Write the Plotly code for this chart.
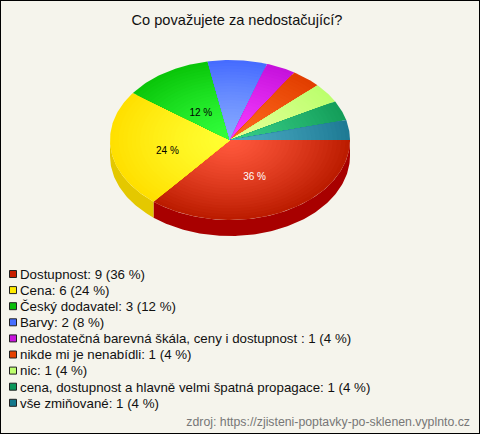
import math

import plotly.graph_objects as go

title = "Co považujete za nedostačující?"
source = "zdroj: https://zjisteni-poptavky-po-sklenen.vyplnto.cz"
categories = [
    "Dostupnost",
    "Cena",
    "Český dodavatel",
    "Barvy",
    "nedostatečná barevná škála, ceny i dostupnost ",
    "nikde mi je nenabídli",
    "nic",
    "cena, dostupnost a hlavně velmi špatná propagace",
    "vše zmiňované",
]
counts = [9, 6, 3, 2, 1, 1, 1, 1, 1]

# colours: centre of the slice, rim of the slice, legend box, side wall
inner_colors = [(255, 88, 60), (255, 255, 50), (50, 255, 60), (135, 170, 255), (245, 60, 255),
                (255, 105, 30), (228, 255, 150), (55, 205, 135), (75, 170, 195)]
outer_colors = [(188, 28, 0), (255, 224, 0), (10, 198, 10), (70, 108, 255), (198, 18, 220),
                (226, 62, 0), (188, 255, 110), (20, 158, 90), (30, 122, 148)]
box_colors = ["#c81e00", "#ffeb00", "#0abe0a", "#466eff", "#c814dc",
              "#e64100", "#beff6e", "#0a965a", "#14788c"]
side_colors = ["#a80000", "#e4c800", "#0a960a", "#3250c8", "#9600aa",
               "#aa3200", "#96c850", "#0a7846", "#0a5a6e"]
label_shift = [(-1, 1.5), (-3, 6.5), (3, 7.5)]

cx, cy, rx, ry, depth = 230, 140, 120, 80, 16
rings = 28
total = sum(counts)


def arc(a0, a1, scale=1.0, dy=0):
    n = max(2, int(abs(a1 - a0) * 60))
    pts = [a0 + (a1 - a0) * i / n for i in range(n + 1)]
    xs = [cx + rx * scale * math.cos(p) for p in pts]
    ys = [cy + dy + ry * scale * math.sin(p) for p in pts]
    return xs, ys


fig = go.Figure()

# slice edges in radians, clockwise on screen from 3 o'clock
edges = [0]
for c in counts:
    edges.append(edges[-1] + 2 * math.pi * c / total)

# side wall, only the front half shows
for i, c in enumerate(counts):
    a0, a1 = edges[i], min(edges[i + 1], math.pi)
    if a0 >= math.pi:
        continue
    x1, y1 = arc(a0, a1)
    x2, y2 = arc(a1, a0, dy=depth)
    fig.add_trace(go.Scatter(x=x1 + x2, y=y1 + y2, mode="lines", fill="toself",
                             fillcolor=side_colors[i], line=dict(width=0)))

# top, drawn as shrinking wedges to get the radial shading
for i, c in enumerate(counts):
    for k in range(rings):
        t = 1 - k / rings
        mix = t ** 1.3
        rgb = [round(inner_colors[i][j] + (outer_colors[i][j] - inner_colors[i][j]) * mix) for j in range(3)]
        xs, ys = arc(edges[i], edges[i + 1], scale=t)
        fig.add_trace(go.Scatter(x=[cx] + xs + [cx], y=[cy] + ys + [cy], mode="lines", fill="toself",
                                 fillcolor=f"rgb({rgb[0]},{rgb[1]},{rgb[2]})", line=dict(width=0)))

# percent labels on the big slices
for i, c in enumerate(counts):
    pct = round(100 * c / total)
    if pct < 10:
        continue
    mid = (edges[i] + edges[i + 1]) / 2
    fig.add_trace(go.Scatter(
        x=[cx + 0.5 * rx * math.cos(mid) + label_shift[i][0]],
        y=[cy + 0.5 * ry * math.sin(mid) + label_shift[i][1]],
        mode="text", text=[f"{pct} %"],
        textfont=dict(family="Liberation Sans", size=10, color="white" if i == 0 else "black"),
    ))

# legend rows
legend_y = [274 + 16.1 * i for i in range(len(categories))]
fig.add_trace(go.Scatter(
    x=[13] * len(categories), y=legend_y, mode="markers",
    marker=dict(symbol="square", size=7, color=box_colors, line=dict(color="#222222", width=1)),
))
fig.add_trace(go.Scatter(
    x=[20] * len(categories), y=[v + 1.5 for v in legend_y], mode="text", textposition="middle right",
    text=[f"{n}: {c} ({round(100 * c / total)} %)" for n, c in zip(categories, counts)],
    textfont=dict(family="Liberation Sans", size=13.3, color="#111111"),
))
fig.add_trace(go.Scatter(
    x=[470], y=[423], mode="text", textposition="middle left", text=[source],
    textfont=dict(family="Liberation Sans", size=12.3, color="#777777"),
))
fig.add_trace(go.Scatter(
    x=[237], y=[21], mode="text", text=[title],
    textfont=dict(family="Liberation Sans", size=14.6, color="#111111"),
))

fig.update_layout(
    width=480, height=434, margin=dict(l=0, r=0, t=0, b=0),
    paper_bgcolor="#f5f4ec", plot_bgcolor="#f5f4ec", showlegend=False,
    xaxis=dict(range=[0, 480], visible=False, fixedrange=True),
    yaxis=dict(range=[434, 0], visible=False, fixedrange=True),
    hovermode=False,
    shapes=[dict(type="rect", xref="paper", yref="paper", x0=0, y0=0, x1=1, y1=1,
                 line=dict(color="black", width=2))],
)
# the page's default body margin would push the chart 8px in
fig.write_html("out.html", config=dict(displayModeBar=False),
               post_script="document.body.style.margin='0';document.body.style.overflow='hidden';")
